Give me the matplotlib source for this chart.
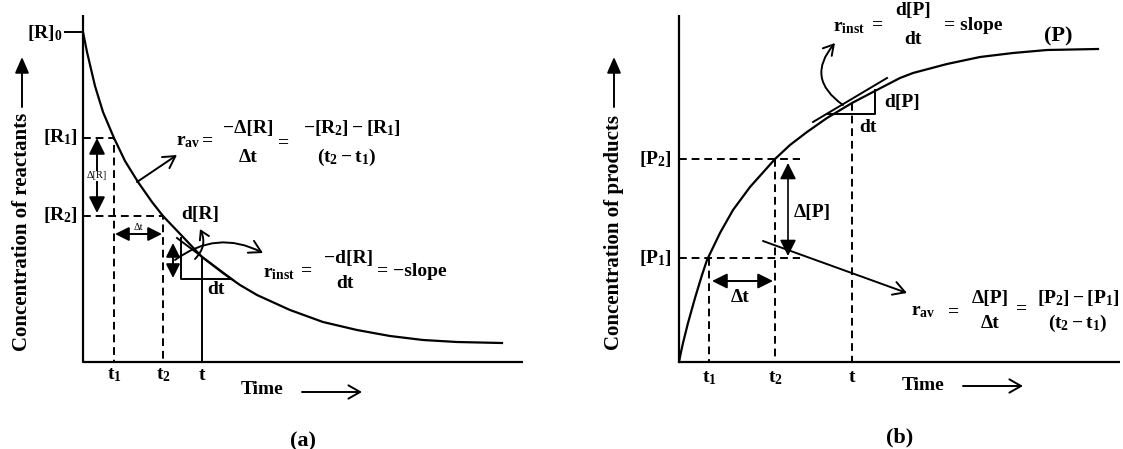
import matplotlib.pyplot as plt

plt.rcParams['font.family'] = 'Liberation Serif'
plt.rcParams['font.weight'] = 'bold'
plt.rcParams['mathtext.fontset'] = 'custom'
plt.rcParams['mathtext.rm'] = 'Liberation Serif:bold'
plt.rcParams['mathtext.it'] = 'Liberation Serif:bold'
plt.rcParams['mathtext.bf'] = 'Liberation Serif:bold'

# (a) reactant curve: time vs concentration (arbitrary units)
decay_time = [0, 4, 12, 20, 31, 42, 55, 69, 80, 100, 119, 140, 157, 174, 207, 240,
              274, 307, 340, 374, 419]
decay_conc = [330, 310, 276, 250, 224, 201, 180, 160, 146, 125, 105, 89, 77, 67, 52, 40,
              32, 26, 22, 20, 19]
# (b) product curve
growth_time = [0, 2, 4, 9, 16, 23, 28, 41, 54, 71, 88, 96, 111, 128, 148, 173, 194, 221,
               234, 268, 301, 334, 368, 419]
growth_conc = [0, 10, 19, 39, 64, 87, 102, 129, 152, 175, 194, 203, 217, 230, 244, 259, 270,
               284, 289, 298, 305, 309, 312, 313]

a_times = [31, 80, 119]      # t1, t2, t
a_conc = [224, 146, 105]     # [R1], [R2], [R] at t
R0 = 330
b_times = [30, 96, 173]
b_conc = [104, 203, 259]     # [P1], [P2], [P] at t
tick_labels = ['$t_1$', '$t_2$', 't']

fig = plt.figure(figsize=(11.23, 4.49), dpi=100)
# one axes per panel, origin at the panel corner, 1 unit = 1 pixel
ax_a = fig.add_axes([0, 0, 1, 1])
ax_a.set_xlim(-83, 1123 - 83)
ax_a.set_ylim(-87, 362)
ax_b = fig.add_axes([0, 0, 1, 1])
ax_b.set_xlim(-679, 1123 - 679)
ax_b.set_ylim(-87, 362)
for ax in (ax_a, ax_b):
    ax.axis('off')
    ax.patch.set_alpha(0)

K = 'black'
dash = (0, (4, 2.5))
filled = '<|-|>,head_length=0.7,head_width=0.35'
open_head = '->,head_length=0.7,head_width=0.4'


def arrow(ax, start, end, style=open_head, rad=0.0, lw=1.4, ms=12):
    ax.annotate('', xy=end, xytext=start,
                arrowprops=dict(arrowstyle=style, lw=lw, color=K, shrinkA=0, shrinkB=0,
                                mutation_scale=ms, connectionstyle='arc3,rad=%s' % rad))


def txt(ax, x, y, s, size=14, **kw):
    ax.text(x, y, s, fontsize=size, ha='center', va='center', color=K, **kw)


def frame(ax, xmax, ylabel, lab_x):
    ax.plot([0, 0, xmax], [347, 0, 0], color=K, lw=1.6, solid_capstyle='butt')
    txt(ax, lab_x, 130, ylabel, size=15, rotation=90)
    arrow(ax, (lab_x, 255), (lab_x, 305), style='-|>,head_length=0.8,head_width=0.35', lw=1.4)


# ---------------- panel (a)
ax = ax_a
frame(ax, 440, 'Concentration of reactants', -61)
ax.plot(decay_time, decay_conc, color=K, lw=1.6)
ax.plot([-18, 0], [R0, R0], color=K, lw=1.4)
txt(ax, -38, 329, '$[R]_0$', size=14)
t1, t2, tt = a_times
r1, r2, rt = a_conc
ax.plot([0, t1, t1], [r1, r1, 0], color=K, lw=1.4, ls=dash)
ax.plot([0, t2, t2], [r2, r2, 0], color=K, lw=1.4, ls=dash)
ax.plot([tt, tt], [rt, 0], color=K, lw=1.4)
txt(ax, -23, 225, '$[R_1]$')
txt(ax, -23, 147, '$[R_2]$')
for x, lab in zip(a_times, tick_labels):
    txt(ax, x, -13, lab, size=14)
arrow(ax, (14, 149), (14, 224), style=filled, ms=14)
txt(ax, 14, 186, 'Δ[R]', size=7.5, weight='normal',
    bbox=dict(fc='white', ec='none', pad=0.5))
arrow(ax, (32, 128), (79, 128), style=filled, ms=12)
txt(ax, 55, 135, 'Δt', size=7.5, weight='normal',
    bbox=dict(fc='white', ec='none', pad=0.3))
# average rate
arrow(ax, (54, 180), (94, 207))
txt(ax, 105, 220, '$r_{av}$')
txt(ax, 125, 221, '=')
txt(ax, 165, 234, '−Δ[R]')
txt(ax, 165, 205, 'Δt')
txt(ax, 201, 219, '=')
txt(ax, 269, 234, '$-[R_2]-[R_1]$')
txt(ax, 264, 205, '$(t_2 - t_1)$')
# tangent at t
ax.plot([94, 150], [124, 82], color=K, lw=1.4)
ax.plot([98, 98, 147], [124, 83, 83], color=K, lw=1.4)
arrow(ax, (90, 84), (90, 119), style=filled, ms=12)
txt(ax, 117, 148, 'd[R]')
txt(ax, 133, 72, 'dt')
arrow(ax, (112, 103), (117, 133), style='->,head_length=0.5,head_width=0.3', rad=0.35)
arrow(ax, (92, 102), (180, 109), rad=-0.31)
txt(ax, 196, 89, '$r_{inst}$')
txt(ax, 224, 91, '=')
txt(ax, 266, 104, '−d[R]')
txt(ax, 262, 79, 'dt')
txt(ax, 329, 91, '= −slope')
txt(ax, 179, -28, 'Time')
arrow(ax, (219, -30), (279, -30))
txt(ax, 220, -79, '(a)', size=16)

# ---------------- panel (b)
ax = ax_b
frame(ax, 441, 'Concentration of products', -65)
ax.plot(growth_time, growth_conc, color=K, lw=1.6)
t1, t2, tt = b_times
p1, p2, pt = b_conc
ax.plot([0, 121], [p1, p1], color=K, lw=1.4, ls=dash)
ax.plot([0, 121], [p2, p2], color=K, lw=1.4, ls=dash)
for x, y in zip(b_times, b_conc):
    ax.plot([x, x], [y, 0], color=K, lw=1.4, ls=dash)
txt(ax, -24, 203, '$[P_2]$')
txt(ax, -24, 104, '$[P_1]$')
for x, lab in zip(b_times, tick_labels):
    txt(ax, x, -16, lab, size=14)
arrow(ax, (109, 106), (109, 199), style=filled, ms=14, lw=1.2)
txt(ax, 133, 149, 'Δ[P]')
arrow(ax, (33, 81), (94, 81), style=filled, ms=13)
txt(ax, 61, 65, 'Δt')
arrow(ax, (84, 121), (228, 69))
txt(ax, 244, 50, '$r_{av}$')
txt(ax, 275, 50, '=')
txt(ax, 311, 64, 'Δ[P]')
txt(ax, 311, 39, 'Δt')
txt(ax, 343, 53, '=')
txt(ax, 399, 64, '$[P_2]-[P_1]$')
txt(ax, 399, 39, '$(t_2 - t_1)$')
# tangent at t
ax.plot([134, 208], [240, 284], color=K, lw=1.4)
ax.plot([149, 196, 196], [248, 248, 272], color=K, lw=1.4)
txt(ax, 223, 260, 'd[P]')
txt(ax, 189, 234, 'dt')
arrow(ax, (164, 257), (156, 319), style='->,head_length=0.6,head_width=0.35', rad=-0.55)
txt(ax, 170, 335, '$r_{inst}$')
txt(ax, 199, 337, '=')
txt(ax, 234, 352, 'd[P]')
txt(ax, 234, 322, 'dt')
txt(ax, 294, 337, '= slope')
txt(ax, 379, 326, '(P)', size=16)
txt(ax, 244, -23, 'Time')
arrow(ax, (284, -24), (344, -24))
txt(ax, 221, -75, '(b)', size=16)

fig.savefig('out.png', dpi=100)
